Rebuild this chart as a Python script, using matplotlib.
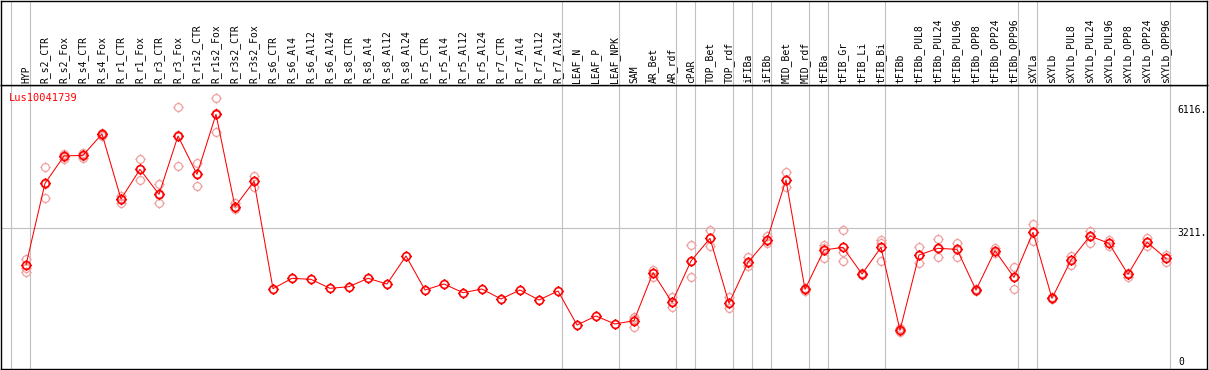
import numpy as np
import matplotlib
matplotlib.use("Agg")
import matplotlib.pyplot as plt
from matplotlib.path import Path

# ---------------- data ----------------
samples = ["HYP", "R_s2_CTR", "R_s2_Fox", "R_s4_CTR", "R_s4_Fox", "R_r1_CTR", "R_r1_Fox",
           "R_r3_CTR", "R_r3_Fox", "R_r1s2_CTR", "R_r1s2_Fox", "R_r3s2_CTR", "R_r3s2_Fox",
           "R_s6_CTR", "R_s6_Al4", "R_s6_Al12", "R_s6_Al24", "R_s8_CTR", "R_s8_Al4",
           "R_s8_Al12", "R_s8_Al24", "R_r5_CTR", "R_r5_Al4", "R_r5_Al12", "R_r5_Al24",
           "R_r7_CTR", "R_r7_Al4", "R_r7_Al12", "R_r7_Al24", "LEAF_N", "LEAF_P", "LEAF_NPK",
           "SAM", "AR_Bet", "AR_rdf", "cPAR", "TOP_Bet", "TOP_rdf", "iFIBa", "iFIBb",
           "MID_Bet", "MID_rdf", "tFIBa", "tFIB_Gr", "tFIB_Li", "tFIB_Bi", "tFIBb",
           "tFIBb_PUL8", "tFIBb_PUL24", "tFIBb_PUL96", "tFIBb_OPP8", "tFIBb_OPP24",
           "tFIBb_OPP96", "sXYLa", "sXYLb", "sXYLb_PUL8", "sXYLb_PUL24", "sXYLb_PUL96",
           "sXYLb_OPP8", "sXYLb_OPP24", "sXYLb_OPP96"]

means = [2347, 4271, 4915, 4931, 5434, 3902, 4601, 4012, 5386, 4483, 5897, 3721, 4318,
         1789, 2033, 2009, 1797, 1836, 2033, 1899, 2559, 1758, 1899, 1695, 1781,
         1546, 1758, 1522, 1734, 933, 1145, 957,
         1035, 2166, 1467, 2441, 2975, 1444, 2410, 2936, 4350, 1774,
         2700, 2763, 2135, 2763, 808, 2582, 2740, 2716, 1758, 2685, 2056,
         3117, 1561, 2465, 3030, 2857, 2127, 2881, 2504]

nan = np.nan
rep1 = [2480, 4648, 4962, 4994, 5465, 3973, 4852, 4248, 6062, 4742, 6274, 3800, 4444,
        nan, nan, nan, nan, nan, nan, nan, nan, nan, nan, nan, nan,
        nan, nan, nan, nan, nan, nan, nan,
        1114, 2229, 1585, 2818, 3172, 1585, 2528, 3030, 4546, 1805,
        2818, 3172, 2166, 2936, 855, 2763, 2952, 2873, 1789, 2755, 2308,
        3305, 1601, 2567, 3156, 2936, 2166, 2991, 2590]
rep2 = [2268, 3918, 4884, 4915, 5410, 3878, 4350, 3800, 4687, 4216, 5488, 3682, 4193,
        nan, nan, nan, nan, nan, nan, nan, nan, nan, nan, nan, nan,
        nan, nan, nan, nan, nan, nan, nan,
        894, 2150, 1349, 2056, 2795, 1326, 2323, 2873, 4177, 1742,
        2520, 2661, 2103, 2873, 760, 2402, 2543, 2543, 1726, 2622, 1789,
        2920, 1538, 2347, 2873, 2795, 2072, 2795, 2410]
rep3 = [2174, 4250, 4852, 4868, 5386, 3816, 4601, 4000, 5410, 4483, 5920, 3659, 4318,
        nan, nan, nan, nan, nan, nan, nan, nan, nan, nan, nan, nan,
        nan, nan, nan, nan, nan, nan, nan,
        1067, 2072, 1467, 2441, 2975, 1444, 2386, 2920, 4350, 1774,
        2740, 2449, 2135, 2449, 800, 2582, 2740, 2716, 1758, 2685, 2056,
        3117, 1561, 2465, 3030, 2857, 2127, 2881, 2504]

group_ends = [-1, 0, 28, 31, 34, 35, 37, 38, 39, 41, 42, 45, 52, 53, 60]
gene = "Lus10041739"
ref_lines = [3211]
axis_labels = ["6116.", "3211.", "0"]
axis_values = [6116, 3211, 0]

# ---------------- figure ----------------
W, H = 1209, 370
fig = plt.figure(figsize=(W / 100, H / 100), dpi=100)
font = dict(family="DejaVu Sans Mono", size=7)

def fx(px):
    return px / W

def fy(py):
    return 1 - py / H

ax = fig.add_axes([fx(1), fy(369), fx(1206), (369 - 85) / H])
hax = fig.add_axes([fx(1), fy(85), fx(1206), (85 - 0.5) / H], sharex=ax)

x = np.arange(len(samples))
ax.set_xlim(-25 / 19, 1181 / 19)
ax.set_ylim(-103.7, 6588)
hax.set_ylim(0, 1)

for a in (ax, hax):
    a.set_xticks([])
    a.set_yticks([])
    for s in a.spines.values():
        s.set_linewidth(1.0)
        s.set_color("black")
    for g in group_ends:
        a.axvline(g + 0.23, color="#c0c0c0", lw=0.8, zorder=0)

for v in ref_lines:
    ax.axhline(v, xmin=0, xmax=(1177 - 1) / 1206, color="#c0c0c0", lw=0.8, zorder=0)

# custom marker: open circle with small ticks
circ = Path.unit_circle()
tick_verts = [(1, 0), (1.35, 0), (-1, 0), (-1.35, 0), (0, 1), (0, 1.35), (0, -1), (0, -1.35)]
tick_codes = [Path.MOVETO, Path.LINETO] * 4
ticks = Path(tick_verts, tick_codes)
marker = Path.make_compound_path(circ, ticks)

for reps in (rep1, rep2, rep3):
    ax.plot(x, reps, linestyle="none", marker=marker, markersize=7.6,
            markerfacecolor="none", markeredgecolor="#f0a0a0", markeredgewidth=0.9,
            zorder=2)

ax.plot(x, means, color="#ff0000", lw=0.75, zorder=3)
ax.plot(x, means, linestyle="none", marker=marker, markersize=7.6,
        markerfacecolor="none", markeredgecolor="#ff0000", markeredgewidth=1.2, zorder=4)

# header labels
for i, s in enumerate(samples):
    hax.text(i, (85 - 83) / 84.5, s, rotation=90, ha="center", va="bottom",
             fontdict=font, color="black")

# gene name
ax.text((9.3 - 26) / 19, 6218, gene, color="#ff0000", ha="left", va="baseline",
        fontdict=dict(family="DejaVu Sans Mono", size=7.5))

# right-side value labels
lx = (1177.7 - 26) / 19
ax.text(lx, axis_values[0], axis_labels[0], ha="left", va="top", fontdict=font)
ax.text(lx, axis_values[1], axis_labels[1], ha="left", va="top", fontdict=font)
ax.text(lx + 0.05, -10, axis_labels[2], ha="left", va="baseline", fontdict=font)

fig.savefig("out.png", dpi=100)
